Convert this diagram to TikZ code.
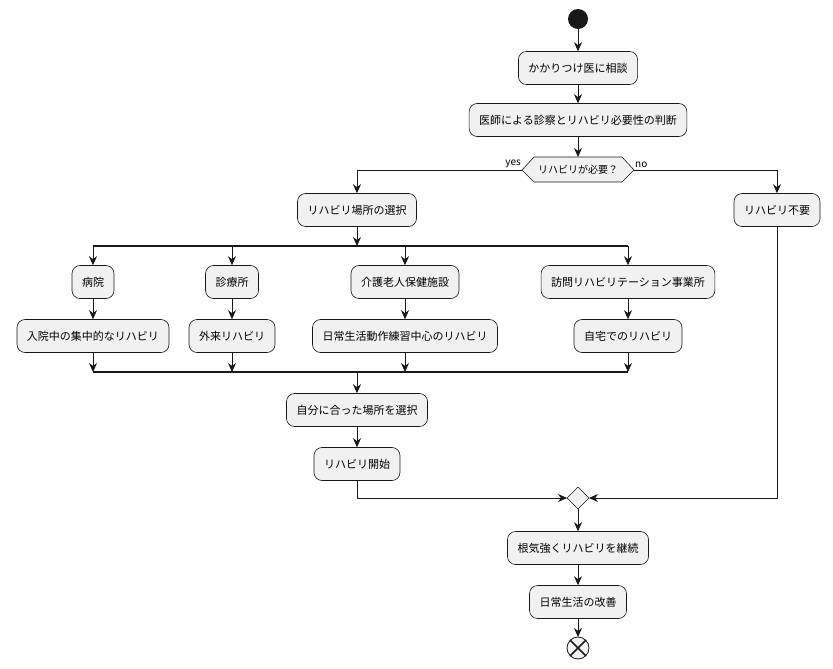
\documentclass[tikz,border=0pt]{standalone}
\usepackage{fontspec}
\setmainfont{Noto Sans CJK JP}
\usetikzlibrary{arrows.meta}
\definecolor{bx}{HTML}{F1F1F1}
\definecolor{ln}{HTML}{181818}
\begin{document}
\begin{tikzpicture}[x=1pt,y=-1pt,
 act/.style={draw=ln,fill=bx,rounded corners=8pt,minimum height=33pt,inner xsep=10pt,font=\fontsize{11}{13}\selectfont,line width=0.6pt},
 arr/.style={draw=ln,line width=0.8pt,-{Stealth[length=9pt,width=8pt]}},
 bar/.style={draw=ln,line width=2pt},
 lbl/.style={font=\fontsize{10}{12}\selectfont,inner sep=1pt}]
\useasboundingbox (0,0) rectangle (833,669);
\fill[ln] (578,19) circle (10) coordinate (st);
\node[act] (a1) at (578,68) {かかりつけ医に相談};
\node[act] (a2) at (578,120) {医師による診察とリハビリ必要性の判断};
\draw[ln,fill=bx,line width=0.6pt] (522,170) coordinate (dl) -- (534,157) -- (622,157) -- (634,170) coordinate (dr) -- (622,182) -- (534,182) -- cycle;
\coordinate (dt) at (578,157);
\node[font=\fontsize{10}{12}\selectfont] (dq) at (578,170) {リハビリが必要？};
\node[lbl,anchor=south east] (ly) at (522,169) {yes};
\node[lbl,anchor=south west] (ln1) at (634,169) {no};
\node[act] (b1) at (357,210) {リハビリ場所の選択};
\node[act] (n1) at (777,210) {リハビリ不要};
\node[act] (h1) at (93,282) {病院};
\node[act] (h2) at (93,336) {入院中の集中的なリハビリ};
\node[act] (c1) at (232,282) {診療所};
\node[act] (c2) at (232,336) {外来リハビリ};
\node[act] (k1) at (405,282) {介護老人保健施設};
\node[act] (k2) at (405,336) {日常生活動作練習中心のリハビリ};
\node[act] (v1) at (628,282) {訪問リハビリテーション事業所};
\node[act] (v2) at (628,336) {自宅でのリハビリ};
\node[act] (s1) at (357,410) {自分に合った場所を選択};
\node[act] (s2) at (357,464) {リハビリ開始};
\draw[ln,fill=bx,line width=0.6pt] (567,498) coordinate (ml) -- (578,487) coordinate (mt) -- (589,498) coordinate (mr) -- (578,509) coordinate (mb) -- cycle;
\node[act] (e1) at (578,548) {根気強くリハビリを継続};
\node[act] (e2) at (578,602) {日常生活の改善};
\draw[ln,fill=bx,line width=0.8pt] (578,648) circle (11) coordinate (en);
\draw[ln,line width=1.6pt] (570.2,640.2) -- (585.8,655.8) (570.2,655.8) -- (585.8,640.2);
\coordinate (f1) at (93,246); \coordinate (f2) at (628,246);
\coordinate (j1) at (93,372); \coordinate (j2) at (628,372);
\draw[bar] (f1) -- (f2);
\draw[bar] (j1) -- (j2);
\draw[arr] (578,29) -- (a1);
\draw[arr] (a1) -- (a2);
\draw[arr] (a2) -- (dt);
\draw[arr] (dl) -| (b1);
\draw[arr] (dr) -| (n1);
\draw[arr] (b1) -- (357,246);
\foreach \p/\q in {h1/h2,c1/c2,k1/k2,v1/v2}{
 \draw[arr] (\p.north |- f1) -- (\p);
 \draw[arr] (\p) -- (\q);
 \draw[arr] (\q) -- (\q.south |- j1);
}
\draw[arr] (357,372) -- (s1);
\draw[arr] (s1) -- (s2);
\draw[arr] (s2.south) |- (ml);
\draw[arr] (n1.south) |- (mr);
\draw[arr] (mb) -- (e1);
\draw[arr] (e1) -- (e2);
\draw[arr] (e2) -- (578,637);
\end{tikzpicture}
\end{document}
